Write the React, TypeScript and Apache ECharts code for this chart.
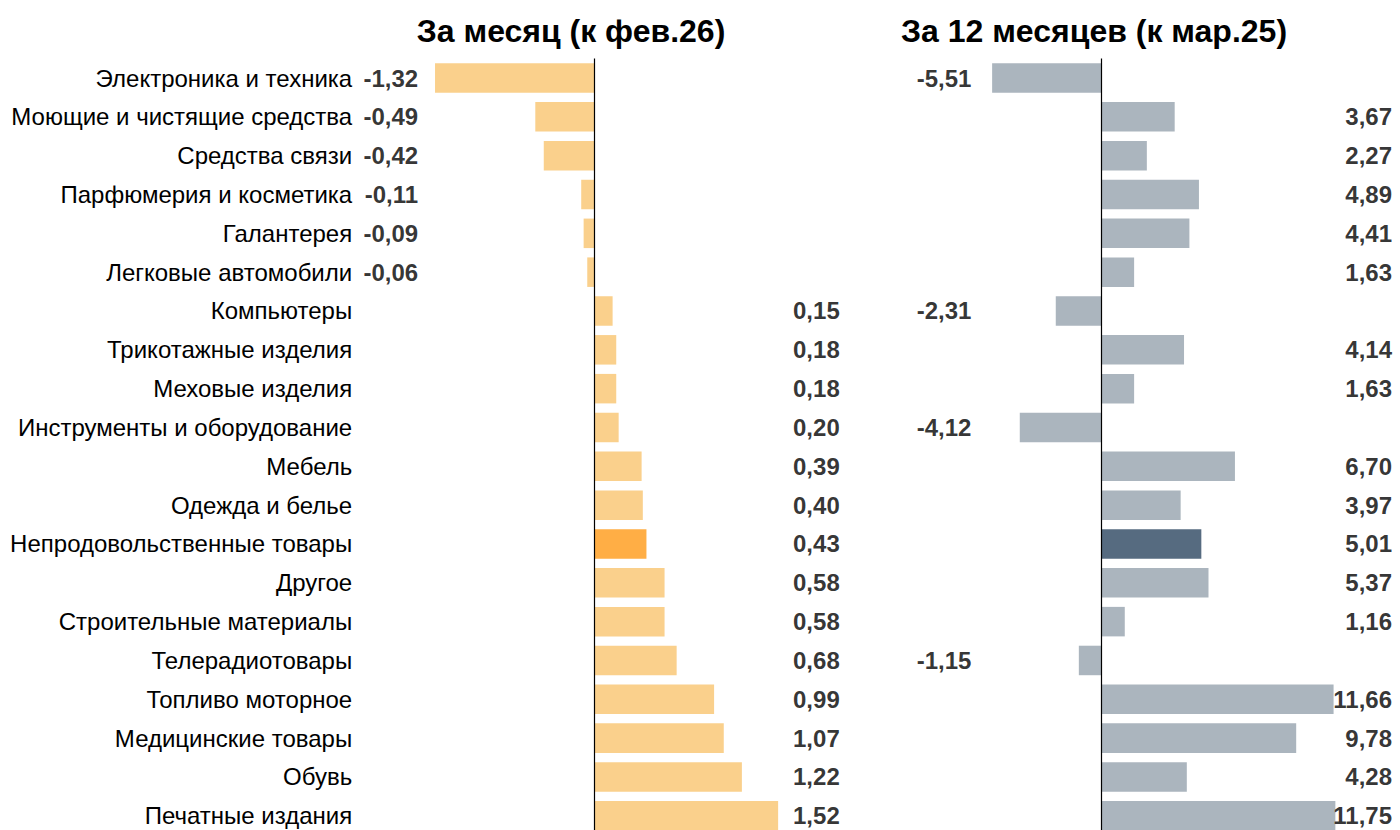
import React, { useEffect, useRef } from "react";
import * as echarts from "echarts";

const categories = [
  "Электроника и техника",
  "Моющие и чистящие средства",
  "Средства связи",
  "Парфюмерия и косметика",
  "Галантерея",
  "Легковые автомобили",
  "Компьютеры",
  "Трикотажные изделия",
  "Меховые изделия",
  "Инструменты и оборудование",
  "Мебель",
  "Одежда и белье",
  "Непродовольственные товары",
  "Другое",
  "Строительные материалы",
  "Телерадиотовары",
  "Топливо моторное",
  "Медицинские товары",
  "Обувь",
  "Печатные издания",
];

const monthValues = [
  -1.32, -0.49, -0.42, -0.11, -0.09, -0.06, 0.15, 0.18, 0.18, 0.2, 0.39, 0.4,
  0.43, 0.58, 0.58, 0.68, 0.99, 1.07, 1.22, 1.52,
];

const yearValues = [
  -5.51, 3.67, 2.27, 4.89, 4.41, 1.63, -2.31, 4.14, 1.63, -4.12, 6.7, 3.97,
  5.01, 5.37, 1.16, -1.15, 11.66, 9.78, 4.28, 11.75,
];

const titles = ["За месяц (к фев.26)", "За 12 месяцев (к мар.25)"];
const highlightCategory = "Непродовольственные товары";

const FONT = "Arial, 'Liberation Sans', Helvetica, sans-serif";

const fmt = (v: number) => v.toFixed(2).replace(".", ",");

export default function App() {
  const ref = useRef<HTMLDivElement>(null);

  useEffect(() => {
    if (!ref.current) return;
    const chart = echarts.init(ref.current, undefined, { renderer: "svg" });

    const makeBars = (
      vals: number[],
      color: string,
      hiColor: string,
      idx: number
    ) => ({
      type: "bar",
      xAxisIndex: idx,
      yAxisIndex: idx,
      barCategoryGap: "24%",
      data: vals.map((v, i) => ({
        value: v,
        itemStyle: {
          color: categories[i] === highlightCategory ? hiColor : color,
        },
      })),
      markLine: {
        silent: true,
        symbol: ["none", "none"],
        label: { show: false },
        lineStyle: { color: "#000", width: 1.2, type: "solid" },
        data: [{ xAxis: 0 }],
      },
    });

    const makeLabels = (
      vals: number[],
      negCol: number,
      posCol: number,
      idx: number
    ) => ({
      type: "scatter",
      xAxisIndex: idx,
      yAxisIndex: idx,
      symbolSize: 0,
      clip: false,
      silent: true,
      data: vals.map((v, i) => [v < 0 ? negCol : posCol, i, v]),
      label: {
        show: true,
        position: "left",
        distance: 0,
        color: "#000",
        fontFamily: FONT,
        fontWeight: "bold",
        fontSize: 24,
        formatter: (p: any) => fmt(p.data[2]),
      },
    });

    const titleStyle = {
      fontFamily: FONT,
      fontSize: 32,
      fontWeight: "bold",
      color: "#000",
    };

    const option: any = {
      animation: false,
      backgroundColor: "#fff",
      textStyle: { fontFamily: FONT },
      title: [
        { text: titles[0], left: 566, top: 10, textAlign: "center", textStyle: titleStyle },
        { text: titles[1], left: 1089, top: 10, textAlign: "center", textStyle: titleStyle },
      ],
      grid: [
        { left: 401.2, top: 58.6, width: 447, height: 776.6 },
        { left: 962.5, top: 58.6, width: 444.4, height: 776.6 },
      ],
      xAxis: [
        { gridIndex: 0, type: "value", min: -1.6, max: 2.1, show: false },
        { gridIndex: 1, type: "value", min: -7, max: 15, show: false },
      ],
      yAxis: [
        {
          gridIndex: 0,
          type: "category",
          data: categories,
          inverse: true,
          axisLine: { show: false },
          axisTick: { show: false },
          splitLine: { show: false },
          axisLabel: {
            margin: 49,
            color: "#000",
            fontFamily: FONT,
            fontSize: 24,
          },
        },
        {
          gridIndex: 1,
          type: "category",
          data: categories,
          inverse: true,
          axisLine: { show: false },
          axisTick: { show: false },
          splitLine: { show: false },
          axisLabel: { show: false },
        },
      ],
      series: [
        makeBars(monthValues, "#FAD08C", "#FFAE45", 0),
        makeBars(yearValues, "#ABB5BE", "#566B80", 1),
        makeLabels(monthValues, -1.46, 2.03, 0),
        makeLabels(yearValues, -6.55, 14.6, 1),
      ],
    };

    chart.setOption(option);
    return () => chart.dispose();
  }, []);

  return (
    <div
      style={{
        position: "fixed",
        left: 0,
        top: 0,
        width: 1400,
        height: 830,
        overflow: "hidden",
        background: "#fff",
      }}
    >
      <div ref={ref} style={{ width: 1400, height: 850 }} />
    </div>
  );
}
